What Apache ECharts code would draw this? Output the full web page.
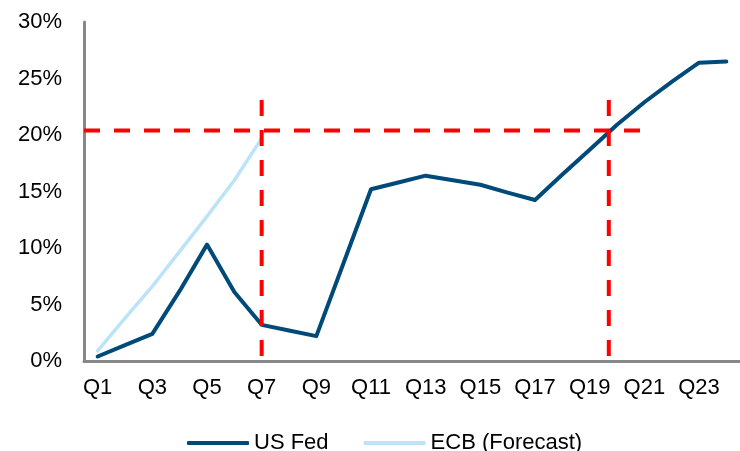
<!DOCTYPE html>
<html>
<head>
<meta charset="utf-8">
<script src="https://cdn.jsdelivr.net/npm/echarts@6/dist/echarts.min.js"></script>
<style>
    html, body { margin: 0; padding: 0; background: #fff; }
    #chart { width: 740px; height: 451px; }
</style>
</head>
<body>
<div id="chart"></div>
<script>
// 季度标签
var quarters = [];
for (var i = 1; i <= 24; i++) { quarters.push('Q' + i); }

// 美联储 (%)
var usFed = [0.4, 1.4, 2.4, 6.2, 10.3, 6.1, 3.2, 2.7, 2.2, 8.7, 15.2, 15.8,
             16.4, 16.0, 15.6, 14.9, 14.25, 16.5, 18.7, 20.9, 22.9, 24.7, 26.4, 26.5];

// 欧洲央行预测 (%)
var ecbForecast = [0.9, 3.8, 6.6, 9.7, 12.8, 16.0, 19.7];

// 参考虚线 [季度位置, 数值]（从上往下画）
var refVertA = [[7, 23.1], [7, 0]];
var refVertB = [[19.7, 23.1], [19.7, 0]];
var refHoriz = [[0.5, 20.4], [20.9, 20.4]];

var yTicks = [0, 5, 10, 15, 20, 25, 30];

var font = 'Liberation Sans, Arial, sans-serif';
var chart = echarts.init(document.getElementById('chart'));

function refLine(name, data) {
    return {
        name: name,
        type: 'line',
        xAxisIndex: 1,
        data: data,
        showSymbol: false,
        silent: true,
        z: 5,
        lineStyle: { color: '#ff0000', width: 4, type: [16, 14] }
    };
}

var opt = {
    animation: false,
    grid: { left: 84, top: 22, width: 662, height: 339 },
    legend: {
        data: ['US Fed', 'ECB (Forecast)'],
        left: 182,
        top: 427,
        icon: 'roundRect',
        itemWidth: 62,
        itemHeight: 4,
        itemGap: 35,
        textStyle: { color: '#000', fontSize: 22, fontFamily: font }
    },
    xAxis: [
        {
            type: 'category',
            data: quarters,
            boundaryGap: true,
            axisLine: { lineStyle: { color: '#888', width: 3 } },
            axisTick: { show: false },
            axisLabel: { interval: 1, color: '#000', fontSize: 22, fontFamily: font, margin: 16 }
        },
        {
            type: 'value',
            min: 0.5,
            max: 24.5,
            show: false
        }
    ],
    yAxis: {
        type: 'value',
        min: yTicks[0],
        max: yTicks[yTicks.length - 1],
        interval: 5,
        splitLine: { show: false },
        axisLine: { show: true, lineStyle: { color: '#888', width: 3 } },
        axisTick: { show: false },
        axisLabel: { formatter: '{value}%', color: '#000', fontSize: 22, fontFamily: font, margin: 22 }
    },
    series: [
        {
            name: 'ECB (Forecast)',
            type: 'line',
            data: ecbForecast,
            showSymbol: false,
            color: '#bde3f8',
            lineStyle: { color: '#bde3f8', width: 3.5, cap: 'round', join: 'round' }
        },
        {
            name: 'US Fed',
            type: 'line',
            data: usFed,
            showSymbol: false,
            color: '#004a7a',
            lineStyle: { color: '#004a7a', width: 4, cap: 'round', join: 'round' }
        },
        refLine('refA', refVertA),
        refLine('refB', refVertB),
        refLine('refH', refHoriz)
    ]
};

chart.setOption(opt);
</script>
</body>
</html>
